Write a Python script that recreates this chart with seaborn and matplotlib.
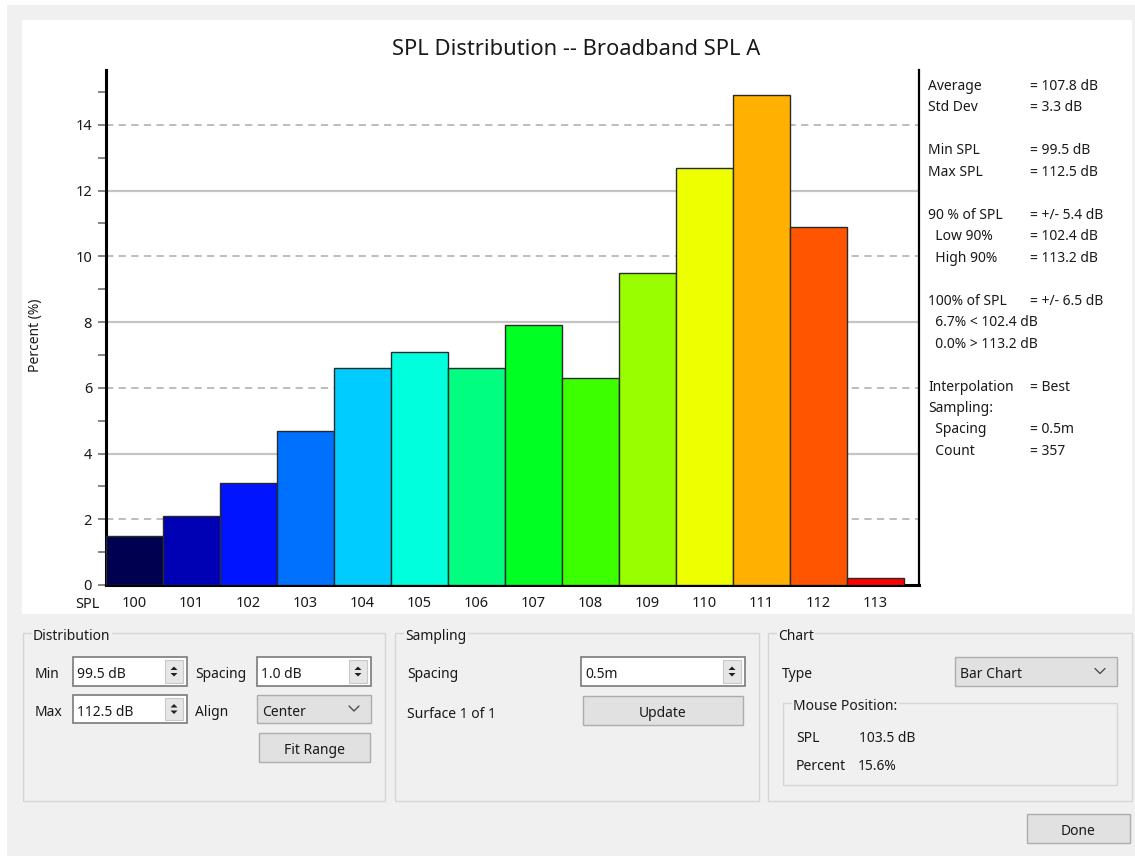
import matplotlib
matplotlib.use("Agg")
import matplotlib.pyplot as plt
import seaborn as sns
import pandas as pd
from matplotlib.patches import Rectangle, Polygon
from matplotlib.lines import Line2D

# histogram data
spl_bins = ["100", "101", "102", "103", "104", "105", "106", "107",
            "108", "109", "110", "111", "112", "113"]
percent = [1.5, 2.1, 3.1, 4.7, 6.6, 7.1, 6.6, 7.9, 6.3, 9.5, 12.7, 14.9, 10.9, 0.2]
bar_colors = ["#000050", "#0000b4", "#0014ff", "#0070ff", "#00ccff", "#00ffdc",
              "#00ff80", "#00ff22", "#3cff00", "#99ff00", "#eeff00", "#ffb000",
              "#ff5500", "#ff0000"]

stat_names = ["Average", "Std Dev", "", "Min SPL", "Max SPL", "", "90 % of SPL",
              "  Low 90%", "  High 90%", "", "100% of SPL", "  6.7% < 102.4 dB",
              "  0.0% > 113.2 dB", "", "Interpolation", "Sampling:", "  Spacing", "  Count"]
stat_values = ["= 107.8 dB", "= 3.3 dB", "", "= 99.5 dB", "= 112.5 dB", "", "= +/- 5.4 dB",
               "= 102.4 dB", "= 113.2 dB", "", "= +/- 6.5 dB", "", "", "", "= Best", "",
               "= 0.5m", "= 357"]

W, H = 1135, 856
GUI_BG = "#f0f0f0"
TXT = "#1a1a1a"

sns.set_style("white")
plt.rcParams["font.family"] = ["Noto Sans", "DejaVu Sans"]

fig = plt.figure(figsize=(W / 100, H / 100), dpi=100)
fig.patch.set_facecolor("white")


def px_rect(x0, y0, x1, y1, fc, ec="none", lw=1.0, z=0):
    fig.add_artist(Rectangle((x0 / W, 1 - y1 / H), (x1 - x0) / W, (y1 - y0) / H,
                             transform=fig.transFigure, facecolor=fc, edgecolor=ec,
                             linewidth=lw, zorder=z))


def px_text(x, y, s, size=10, ha="left", va="center_baseline", **kw):
    fig.text(x / W, 1 - y / H, s, fontsize=size, ha=ha, va=va, color=TXT, **kw)


def px_line(xs, ys, color, lw=1.0, z=2):
    fig.add_artist(Line2D([x / W for x in xs], [1 - y / H for y in ys],
                          transform=fig.transFigure, color=color, linewidth=lw, zorder=z))


# window background and white chart panel
px_rect(7, 5, W, H, GUI_BG, z=-3)
px_rect(22, 20, 1132, 614, "white", z=-2)

# main chart
ax = fig.add_axes([106 / W, 1 - 585 / H, (919 - 106) / W, (585 - 70) / H])
df = pd.DataFrame({"spl": spl_bins, "percent": percent})
sns.barplot(data=df, x="spl", y="percent", hue="spl", order=spl_bins,
            palette=dict(zip(spl_bins, bar_colors)), width=1.0, saturation=1,
            edgecolor="#2a2a2a", linewidth=1.0, legend=False, ax=ax, zorder=3)

ax.set_xlim(-0.5, 13.76)
ax.set_ylim(0, 15.67)
for v in [4, 8, 12]:
    ax.axhline(v, color="#c4c4c4", lw=1.6, zorder=1)
for v in [2, 6, 10, 14]:
    ax.axhline(v, color="#b8b8b8", lw=1.3, ls=(0, (4, 3)), zorder=1)

ax.set_yticks([0, 2, 4, 6, 8, 10, 12, 14])
ax.set_yticks([1, 3, 5, 7, 9, 11, 13, 15], minor=True)
ax.tick_params(axis="y", which="both", direction="out", length=6, width=1.2,
               color="#707070", labelsize=10.5, labelcolor=TXT, pad=4, left=True)
ax.tick_params(axis="x", length=0, labelsize=10.5, labelcolor=TXT, pad=8)
ax.set_xlabel("")
ax.set_ylabel("")
for side in ["left", "bottom"]:
    ax.spines[side].set_linewidth(2.2)
    ax.spines[side].set_color("black")
ax.spines["right"].set_linewidth(1.6)
ax.spines["right"].set_color("black")
ax.spines["top"].set_visible(False)
ax.set_facecolor("white")

px_text(100, 602, "SPL", size=10.5, ha="right")
px_text(36, 335, "Percent (%)", size=10, ha="center", va="center", rotation=90)
px_text(576, 47, "SPL Distribution -- Broadband SPL A", size=15.8, ha="center")

# statistics column
y = 84
for name, val in zip(stat_names, stat_values):
    if name:
        px_text(928, y, name, size=10)
        if val:
            px_text(1030, y, val, size=10)
        y += 21.2
    else:
        y += 22.4


# widgets
def group_box(x0, y0, x1, y1, title):
    px_rect(x0, y0, x1, y1, "none", ec="#d6d6d6", lw=1.0, z=1)
    px_text(x0 + 10, y0 + 1, title, size=10,
            bbox=dict(facecolor=GUI_BG, edgecolor="none", pad=1))


def arrows(x, y0, y1):
    cx = x / W
    yc = 1 - (y0 + y1) / 2 / H
    dx, dy = 3.5 / W, 3.5 / H
    for sgn in (1, -1):
        base = yc + sgn * 1.5 / H
        tip = base + sgn * dy
        fig.add_artist(Polygon([[cx - dx, base], [cx + dx, base], [cx, tip]],
                               closed=True, transform=fig.transFigure,
                               facecolor="#202020", edgecolor="none", zorder=4))


def spin_box(x0, y0, x1, y1, s):
    px_rect(x0, y0, x1, y1, "white", ec="#7a7a7a", lw=1.2, z=2)
    px_rect(x1 - 22, y0 + 3, x1 - 4, y1 - 3, "#e6e6e6", ec="#c8c8c8", lw=0.8, z=3)
    arrows(x1 - 13, y0, y1)
    px_text(x0 + 4, (y0 + y1) / 2 + 1, s, size=10)


def combo(x0, y0, x1, y1, s):
    px_rect(x0, y0, x1, y1, "#e1e1e1", ec="#adadad", lw=1.0, z=2)
    px_text(x0 + 5, (y0 + y1) / 2 + 1, s, size=10)
    cx, cy = x1 - 17, (y0 + y1) / 2
    px_line([cx - 5, cx, cx + 5], [cy - 3, cy + 2, cy - 3], "#505050", lw=1.0, z=4)


def button(x0, y0, x1, y1, s):
    px_rect(x0, y0, x1, y1, "#e1e1e1", ec="#adadad", lw=1.0, z=2)
    px_text((x0 + x1) / 2, (y0 + y1) / 2 + 1, s, size=10, ha="center")


group_box(23, 633, 385, 801, "Distribution")
px_text(35, 673, "Min")
spin_box(73, 657, 187, 686, "99.5 dB")
px_text(35, 711, "Max")
spin_box(73, 695, 187, 723, "112.5 dB")
px_text(195, 673, "Spacing")
spin_box(257, 657, 371, 686, "1.0 dB")
px_text(195, 711, "Align")
combo(257, 695, 371, 723, "Center")
button(259, 733, 370, 762, "Fit Range")

group_box(395, 633, 759, 801, "Sampling")
px_text(407, 673, "Spacing")
spin_box(581, 657, 745, 686, "0.5m")
px_text(407, 712, "Surface 1 of 1")
button(583, 696, 743, 725, "Update")

group_box(768, 633, 1132, 801, "Chart")
px_text(782, 673, "Type")
combo(955, 657, 1117, 686, "Bar Chart")
group_box(783, 703, 1117, 785, "Mouse Position:")
px_text(796, 737, "SPL")
px_text(859, 737, "103.5 dB")
px_text(796, 764, "Percent")
px_text(858, 764, "15.6%")

button(1027, 814, 1130, 843, "Done")

fig.savefig("out.png", dpi=100, facecolor=fig.get_facecolor())
